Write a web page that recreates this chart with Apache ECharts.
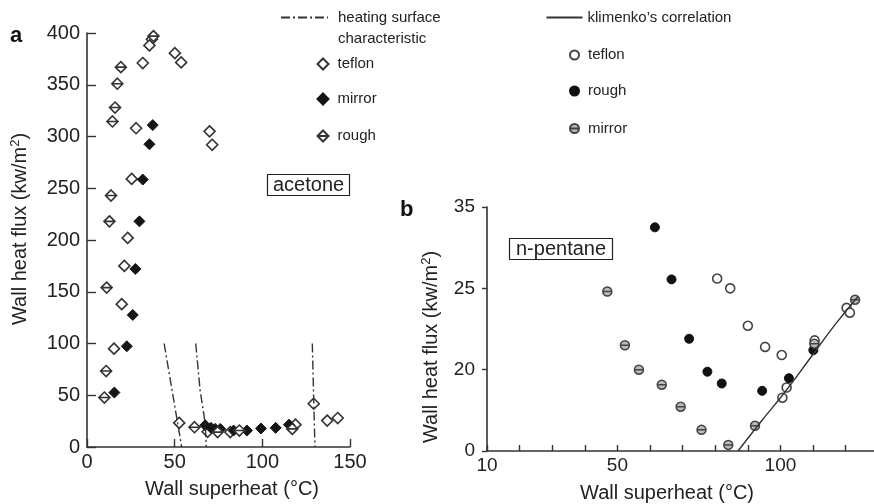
<!DOCTYPE html>
<html><head><meta charset="utf-8">
<script src="https://cdn.jsdelivr.net/npm/echarts/dist/echarts.min.js"></script>
<style>html,body{margin:0;padding:0;background:#fff}#c{width:874px;height:504px}</style>
</head><body><div id="c"></div><script>
const FONT = "'Liberation Sans', Arial, Helvetica, sans-serif";
const INK = '#222';

// ---- Panel a (acetone) ----
const aTeflon = [[31.8,371],[39.8,401],[37,394],[35.6,388],[50.1,380.5],[53.7,371.6],[28,308],[69.9,305],[71.4,292],[25.5,259],[23.2,202],[21.3,175],[19.8,138],[15.4,95],[52.6,23.3],[68.8,14.7],[81.7,14.4],[118.9,21.6],[129.3,41.8],[137,25.5],[143,28]];
const aMirror = [[37.5,311],[35.6,292.5],[31.8,258.4],[29.9,218],[27.6,172],[26.1,127.6],[22.7,97.3],[15.6,52.6],[67.4,21],[70.7,18.5],[73.1,17.5],[76,17.5],[83.6,15.9],[91.2,15.9],[99.2,17.9],[107.6,18.5],[115.2,21.6]];
const aRough = [[37.9,397],[19.3,367],[17.3,351],[16,328],[14.5,314.5],[13.7,243],[12.8,218],[11.2,154],[10.9,73.4],[9.9,47.8],[61.3,19.1],[74.5,14.4],[86.9,15.9],[117.1,17.5]];
const aHeat1 = [[44,100],[54,0]];
const aHeat2 = [[62,100],[64.5,55],[67.5,22],[68,0]];
const aHeat3 = [[128.5,100],[130,0]];

// ---- Panel b (n-pentane) ----
const bYTickValues = [0,20,25,35];
const bXLabelValues = [10,50,100];
const bTeflon = [[80.6,26.2],[84.6,25],[90,22.7],[95.3,21.4],[100.4,20.9],[101.9,15.6],[100.6,13.1],[110.5,21.8],[120.3,23.8],[121.3,23.5]];
const bRough = [[61.5,32.5],[66.6,26.1],[72,21.9],[77.6,19.5],[82,16.6],[94.4,14.8],[102.6,17.9],[110.1,21.2]];
const bMirror = [[46.9,24.8],[52.3,21.5],[56.6,20],[63.6,16.3],[69.4,10.9],[75.8,5.2],[84,1.5],[92.2,6.2],[110.4,21.6],[122.9,24.3]];
const bKlimenko = [[87,0],[93.7,6.9],[101.4,14.5],[109.1,20.7],[116.7,22.75],[123.8,24.5]];

// piecewise scale of the broken y axis in panel b (equal spacing between labelled ticks)
function bY(v){
  const t = bYTickValues;
  for (let i = 0; i < t.length - 1; i++) {
    if (v <= t[i+1] || i === t.length - 2) return i + (v - t[i]) / (t[i+1] - t[i]);
  }
}
const toB = arr => arr.map(p => [p[0], bY(p[1])]);

const roughDiamond = 'path://M0,-10L10,0L0,10L-10,0ZM-10,0L10,0';
const hatchCircle = 'path://M-10,0A10,10,0,1,1,10,0A10,10,0,1,1,-10,0ZM-10,0L10,0';

const axisCommon = {
  axisLine: {lineStyle: {color: '#333', width: 1.6}},
  splitLine: {show: false},
  nameTextStyle: {fontFamily: FONT, fontSize: 20, color: INK},
};
const lblStyle = (fs, margin) => ({fontFamily: FONT, fontSize: fs, color: INK, margin: margin});

const legText = {fontFamily: FONT, fontSize: 15, color: INK};
const legTextPad = Object.assign({}, legText, {padding: [0,0,0,4]});
const stripName = n => n.replace(/^[ab]-/, '');
const noSym = {opacity: 0};

const chart = echarts.init(document.getElementById('c'), null, {renderer: 'canvas'});
chart.setOption({
  animation: false,
  backgroundColor: '#fff',
  textStyle: {fontFamily: FONT},
  title: [
    {text: 'a', left: 10, top: 25, padding: 0, textStyle: {fontFamily: FONT, fontSize: 22, fontWeight: 'bold', color: '#111'}},
    {text: 'b', left: 400, top: 199, padding: 0, textStyle: {fontFamily: FONT, fontSize: 22, fontWeight: 'bold', color: '#111'}},
    {text: 'acetone', left: 267, top: 174, padding: [1,6], borderWidth: 1.2, borderColor: '#222', textStyle: {fontFamily: FONT, fontSize: 20, fontWeight: 'normal', color: INK}},
    {text: 'n-pentane', left: 509, top: 238, padding: [1,7], borderWidth: 1.2, borderColor: '#222', textStyle: {fontFamily: FONT, fontSize: 20, fontWeight: 'normal', color: INK}}
  ],
  legend: [
    {data: ['heating surface characteristic'], left: 280, top: 10, padding: 0, itemWidth: 47, itemHeight: 14,
     itemStyle: noSym, formatter: () => 'heating surface', textStyle: Object.assign({}, legText, {padding: [0,0,0,5]})},
    {data: ['heating surface characteristic'], left: 280, top: 31, padding: 0, itemWidth: 47, itemHeight: 14,
     itemStyle: noSym, lineStyle: noSym, formatter: () => 'characteristic', textStyle: Object.assign({}, legText, {padding: [0,0,0,5]})},
    {data: ['a-teflon'], left: 316.5, top: 56.5, padding: 0, itemWidth: 11, itemHeight: 11, formatter: stripName, textStyle: legTextPad},
    {data: ['a-mirror'], left: 316.5, top: 91.5, padding: 0, itemWidth: 11, itemHeight: 11, formatter: stripName, textStyle: legTextPad},
    {data: ['a-rough'], left: 316.5, top: 128.5, padding: 0, itemWidth: 11, itemHeight: 11, formatter: stripName, textStyle: legTextPad},
    {data: ['klimenko’s correlation'], left: 545.5, top: 10, padding: 0, itemWidth: 36, itemHeight: 14, itemStyle: noSym, textStyle: legText},
    {data: ['b-teflon'], left: 569, top: 47.5, padding: 0, itemWidth: 9, itemHeight: 9, formatter: stripName, textStyle: legTextPad},
    {data: ['b-rough'], left: 569, top: 83.5, padding: 0, itemWidth: 9, itemHeight: 9, formatter: stripName, textStyle: legTextPad},
    {data: ['b-mirror'], left: 569, top: 121, padding: 0, itemWidth: 9, itemHeight: 9, formatter: stripName, textStyle: legTextPad}
  ],
  grid: [
    {left: 87, top: 33, width: 263, height: 418, containLabel: false},
    {left: 487, top: 207, width: 387, height: 244, containLabel: false}
  ],
  xAxis: [
    Object.assign({}, axisCommon, {
      gridIndex: 0, type: 'value', min: 0, max: 150, interval: 50,
      axisTick: {inside: true, length: 8, lineStyle: {color: '#333', width: 1.4}},
      axisLabel: lblStyle(20, 5),
      name: 'Wall superheat (°C)', nameLocation: 'middle', nameGap: 32,
      nameTextStyle: {fontFamily: FONT, fontSize: 20, color: INK, padding: [0,0,0,27]}
    }),
    Object.assign({}, axisCommon, {
      gridIndex: 1, type: 'value', min: 10, max: 128.7, interval: 10,
      axisTick: {inside: true, length: 6, lineStyle: {color: '#333', width: 1.4}},
      axisLabel: Object.assign(lblStyle(19, 5), {showMaxLabel: false, formatter: v => bXLabelValues.indexOf(v) >= 0 ? String(v) : ''}),
      name: 'Wall superheat (°C)', nameLocation: 'middle', nameGap: 32,
      nameTextStyle: {fontFamily: FONT, fontSize: 20, color: INK, padding: [0,27,0,0]}
    })
  ],
  yAxis: [
    Object.assign({}, axisCommon, {
      gridIndex: 0, type: 'value', min: 0, max: 400, interval: 50,
      axisTick: {inside: true, length: 9, lineStyle: {color: '#333', width: 1.4}},
      axisLabel: lblStyle(20, 7),
      name: 'Wall heat flux (kw/m{sup|2})', nameLocation: 'middle', nameGap: 55, nameRotate: 90,
      nameTextStyle: {fontFamily: FONT, fontSize: 20, color: INK, padding: [0,0,0,22],
        rich: {sup: {fontFamily: FONT, fontSize: 13, color: INK, padding: [0,0,10,0]}}}
    }),
    Object.assign({}, axisCommon, {
      gridIndex: 1, type: 'value', min: 0, max: 3, interval: 1,
      axisTick: {inside: false, length: 5, lineStyle: {color: '#333', width: 1.4}},
      axisLabel: Object.assign(lblStyle(19, 12), {formatter: v => String(bYTickValues[Math.round(v)])}),
      name: 'Wall heat flux (kw/m{sup|2})', nameLocation: 'middle', nameGap: 44, nameRotate: 90,
      nameTextStyle: {fontFamily: FONT, fontSize: 20, color: INK, padding: [0,36,0,0],
        rich: {sup: {fontFamily: FONT, fontSize: 13, color: INK, padding: [0,0,10,0]}}}
    })
  ],
  series: [
    {name: 'heating surface characteristic', type: 'line', xAxisIndex: 0, yAxisIndex: 0, data: aHeat1, symbol: 'none',
     lineStyle: {color: '#333', width: 1.4, type: [9,3,2,3]}, itemStyle: {color: '#333'}},
    {name: 'heating surface characteristic', type: 'line', xAxisIndex: 0, yAxisIndex: 0, data: aHeat2, symbol: 'none',
     lineStyle: {color: '#333', width: 1.4, type: [9,3,2,3]}, itemStyle: {color: '#333'}},
    {name: 'heating surface characteristic', type: 'line', xAxisIndex: 0, yAxisIndex: 0, data: aHeat3, symbol: 'none',
     lineStyle: {color: '#333', width: 1.4, type: [9,3,2,3]}, itemStyle: {color: '#333'}},
    {name: 'a-teflon', type: 'scatter', xAxisIndex: 0, yAxisIndex: 0, data: aTeflon, symbol: 'diamond', symbolSize: 11,
     itemStyle: {color: '#fff', borderColor: '#333', borderWidth: 1.6, opacity: 1}},
    {name: 'a-mirror', type: 'scatter', xAxisIndex: 0, yAxisIndex: 0, data: aMirror, symbol: 'diamond', symbolSize: 11,
     itemStyle: {color: '#151515', borderColor: '#151515', borderWidth: 1, opacity: 1}},
    {name: 'a-rough', type: 'scatter', xAxisIndex: 0, yAxisIndex: 0, data: aRough, symbol: roughDiamond, symbolSize: 11,
     itemStyle: {color: '#fff', borderColor: '#333', borderWidth: 1.6, opacity: 1}},
    {name: 'klimenko’s correlation', type: 'line', xAxisIndex: 1, yAxisIndex: 1, data: toB(bKlimenko), symbol: 'none', smooth: true,
     lineStyle: {color: '#333', width: 1.4}, itemStyle: {color: '#333'}},
    {name: 'b-teflon', type: 'scatter', xAxisIndex: 1, yAxisIndex: 1, data: toB(bTeflon), symbol: 'circle', symbolSize: 9,
     itemStyle: {color: '#fff', borderColor: '#444', borderWidth: 1.6, opacity: 1}},
    {name: 'b-rough', type: 'scatter', xAxisIndex: 1, yAxisIndex: 1, data: toB(bRough), symbol: 'circle', symbolSize: 9,
     itemStyle: {color: '#111', borderColor: '#111', borderWidth: 1, opacity: 1}},
    {name: 'b-mirror', type: 'scatter', xAxisIndex: 1, yAxisIndex: 1, data: toB(bMirror), symbol: hatchCircle, symbolSize: 9,
     itemStyle: {color: '#bbb', borderColor: '#444', borderWidth: 1.5, opacity: 1}}
  ]
});
</script></body></html>
